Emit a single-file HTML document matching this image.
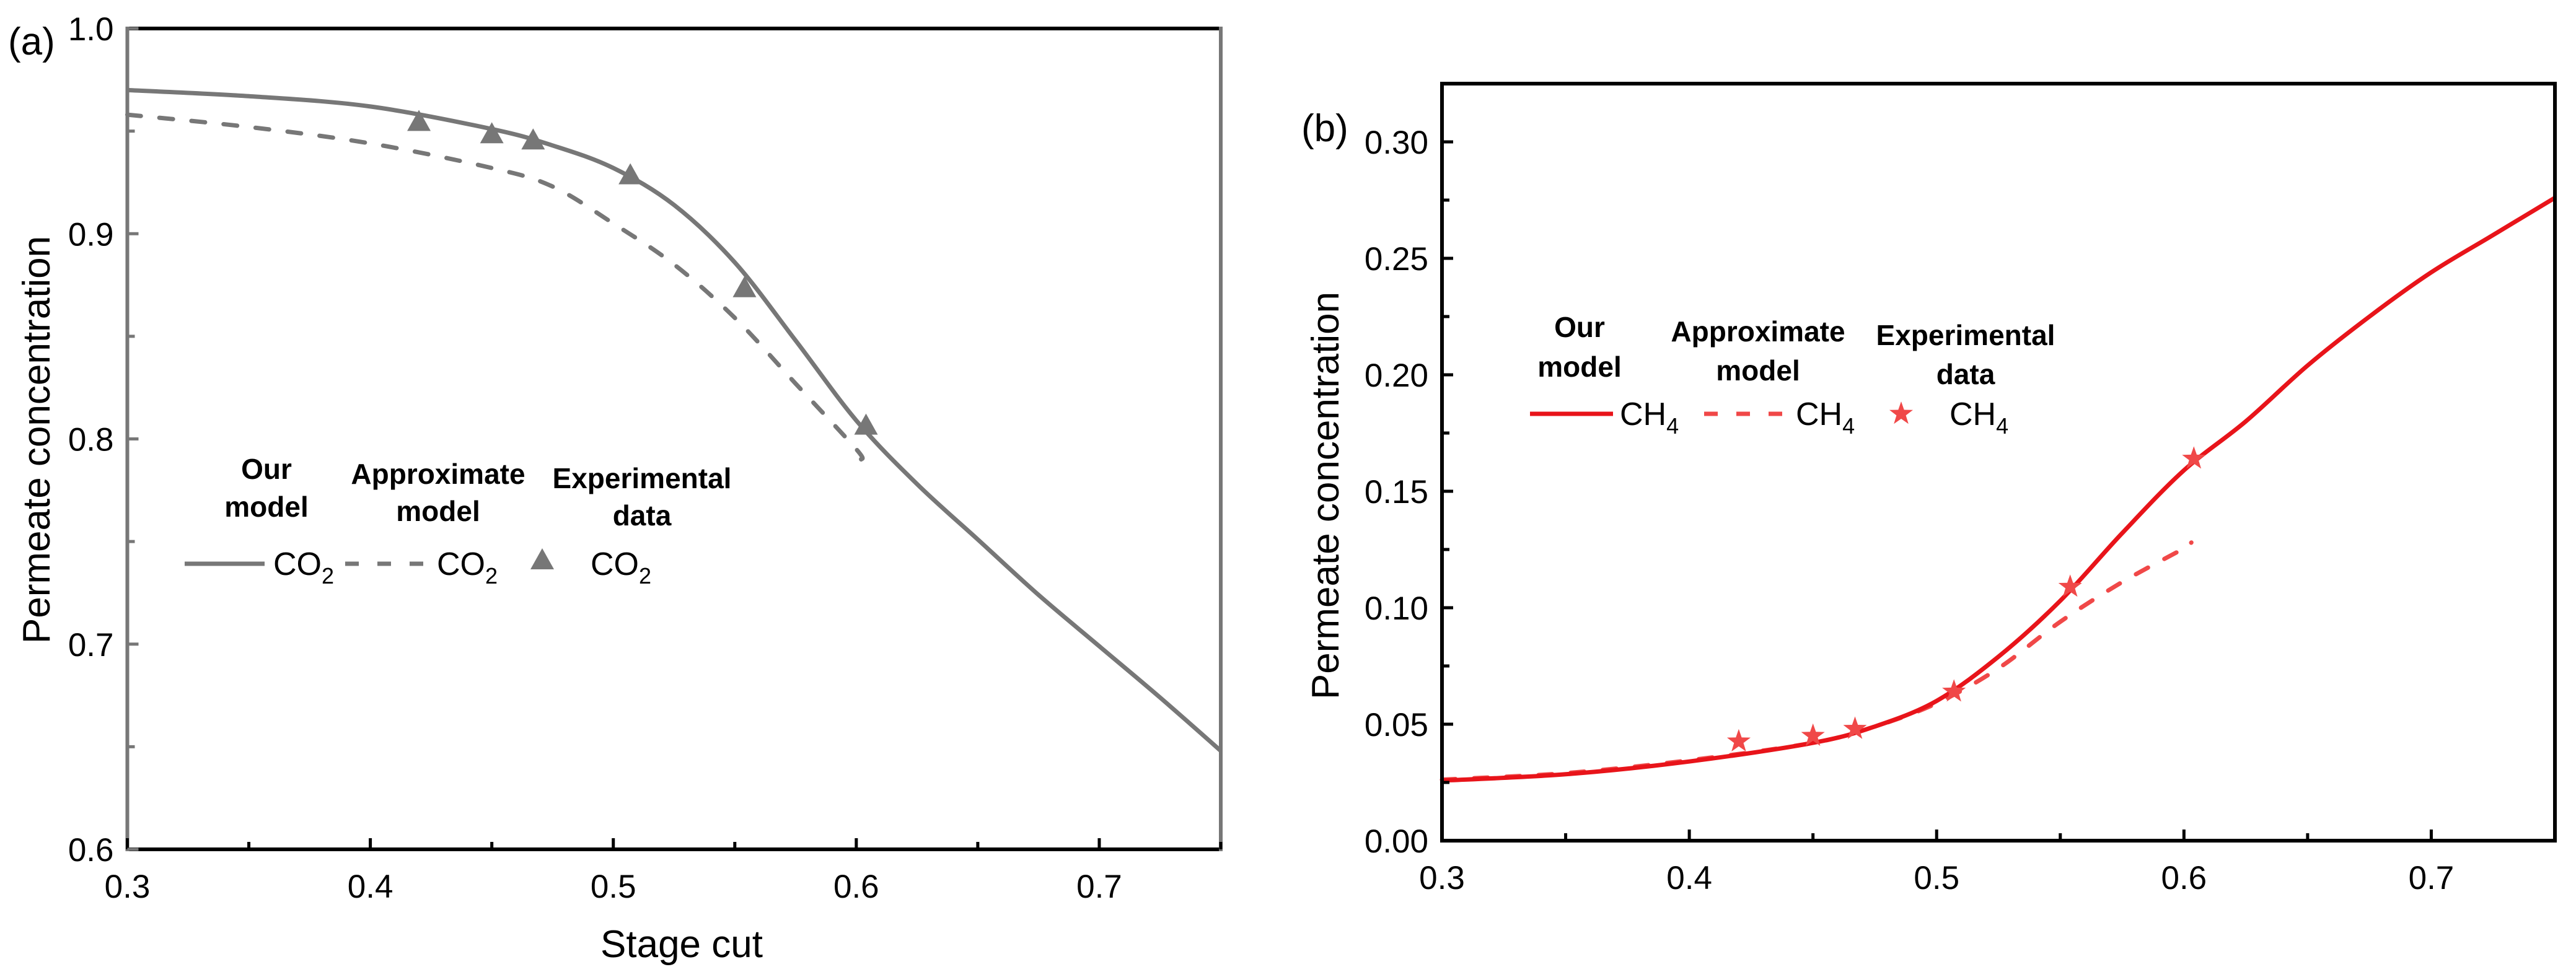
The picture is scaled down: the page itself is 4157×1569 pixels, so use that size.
<!DOCTYPE html>
<html><head><meta charset="utf-8"><style>
html,body{margin:0;padding:0;background:#fff}
svg{display:block}
.t{font-family:"Liberation Sans Narrow","Liberation Sans",sans-serif;font-size:53px;fill:#000}
.ti{font-family:"Liberation Sans",sans-serif;font-size:62px;fill:#000}
.lb{font-family:"Liberation Sans Narrow","Liberation Sans",sans-serif;font-size:46px;font-weight:bold;fill:#000}
.lt{font-family:"Liberation Sans Narrow","Liberation Sans",sans-serif;font-size:52px;fill:#000}
</style></head><body>
<svg id="c" width="4157" height="1569" viewBox="0 0 4157 1569" xmlns="http://www.w3.org/2000/svg"></svg>
<script>
// Panel (a) data
const aXTicks=[0.3,0.4,0.5,0.6,0.7];
const aYTicks=[0.6,0.7,0.8,0.9,1.0];
const aYLabels=["0.6","0.7","0.8","0.9","1.0"];
const aOurX=[0.3,0.35,0.4,0.45,0.475,0.5,0.525,0.55,0.575,0.6,0.625,0.65,0.675,0.7,0.725,0.75];
const aOurY=[0.970,0.967,0.962,0.951,0.943,0.932,0.914,0.886,0.848,0.809,0.778,0.751,0.724,0.699,0.674,0.648];
const aApxX=[0.3,0.35,0.4,0.45,0.475,0.5,0.525,0.55,0.575,0.6,0.602];
const aApxY=[0.958,0.952,0.944,0.932,0.923,0.905,0.885,0.859,0.827,0.795,0.790];
const aExpX=[0.42,0.45,0.467,0.507,0.554,0.604];
const aExpY=[0.954,0.948,0.945,0.928,0.873,0.806];
// Panel (b) data
const bXTicks=[0.3,0.4,0.5,0.6,0.7];
const bYTicks=[0,0.05,0.10,0.15,0.20,0.25,0.30];
const bYLabels=["0.00","0.05","0.10","0.15","0.20","0.25","0.30"];
const bOurX=[0.3,0.35,0.4,0.45,0.475,0.5,0.525,0.55,0.575,0.6,0.625,0.65,0.675,0.7,0.725,0.75];
const bOurY=[0.0258,0.0285,0.034,0.042,0.049,0.060,0.079,0.103,0.132,0.159,0.180,0.204,0.225,0.244,0.260,0.276];
const bApxX=[0.3,0.35,0.4,0.45,0.475,0.5,0.525,0.55,0.575,0.6,0.603];
const bApxY=[0.0262,0.029,0.0345,0.042,0.049,0.059,0.074,0.094,0.111,0.1255,0.128];
const bExpX=[0.42,0.45,0.467,0.507,0.554,0.604];
const bExpY=[0.0426,0.045,0.048,0.064,0.109,0.164];

const NS="http://www.w3.org/2000/svg";
const svg=document.getElementById('c');
function mk(tag,attrs,parent){const e=document.createElementNS(NS,tag);for(const k in attrs)e.setAttribute(k,attrs[k]);(parent||svg).appendChild(e);return e;}
function txt(x,y,s,cls,anchor,parent){const e=mk('text',{x:x,y:y,class:cls,'text-anchor':anchor||'middle'},parent);e.textContent=s;return e;}
function smooth(pts){
  let d='M'+pts[0][0].toFixed(1)+' '+pts[0][1].toFixed(1);
  for(let i=0;i<pts.length-1;i++){
    const p0=pts[Math.max(0,i-1)],p1=pts[i],p2=pts[i+1],p3=pts[Math.min(pts.length-1,i+2)];
    const c1x=p1[0]+(p2[0]-p0[0])/6,c1y=p1[1]+(p2[1]-p0[1])/6;
    const c2x=p2[0]-(p3[0]-p1[0])/6,c2y=p2[1]-(p3[1]-p1[1])/6;
    d+=`C${c1x.toFixed(1)} ${c1y.toFixed(1)} ${c2x.toFixed(1)} ${c2y.toFixed(1)} ${p2[0].toFixed(1)} ${p2[1].toFixed(1)}`;
  }
  return d;
}

function panel(P){
  const g=mk('g',{});
  
  
  const sx=v=>P.x0+(v-P.xmin)/(P.xmax-P.xmin)*(P.x1-P.x0);
  const sy=v=>P.y0-(v-P.ymin)/(P.ymax-P.ymin)*(P.y0-P.y1);
  function line(xs,ys,dash,color,name){
    const pts=xs.map((x,i)=>[sx(x),sy(ys[i])]);
    const p=mk('path',{d:smooth(pts),fill:'none',stroke:color,'stroke-width':7,'stroke-linejoin':'round','stroke-linecap':dash?'round':'butt'},g);
    if(dash)p.setAttribute('stroke-dasharray',dash);
    
    
  }
  line(P.apxX,P.apxY,'22 30',P.c2,'approximate-model-line');
  line(P.ourX,P.ourY,null,P.c1,'our-model-line');
  for(let i=0;i<P.expX.length;i++){
    const m=P.marker(sx(P.expX[i]),sy(P.expY[i]),g);
    
    
  }
  mk('line',{x1:P.x0-3,y1:P.y1,x2:P.x1+3,y2:P.y1,stroke:'#000','stroke-width':6},g);
  mk('line',{x1:P.x0-3,y1:P.y0,x2:P.x1+3,y2:P.y0,stroke:'#000','stroke-width':6},g);
  mk('line',{x1:P.x0,y1:P.y1-3,x2:P.x0,y2:P.y0+3,stroke:P.axc,'stroke-width':6},g);
  mk('line',{x1:P.x1,y1:P.y1-3,x2:P.x1,y2:P.y0+3,stroke:P.axc,'stroke-width':6},g);
  for(let v=P.xmin;v<=P.xmax+1e-9;v+=0.05){
    const x=sx(v);const major=Math.abs(Math.round(v*10)-v*10)<1e-6;
    mk('line',{x1:x,y1:P.y0,x2:x,y2:P.y0-(major?18:12),stroke:'#000','stroke-width':5},g);
  }
  P.xt.forEach(v=>{const t=txt(sx(v),P.y0+78,v.toFixed(1),'t','middle',g);});
  const step=(P.yt[1]-P.yt[0])/2;
  for(let v=P.ymin;v<=P.ymax+1e-9;v+=step){
    const y=sy(v);const k=Math.round((v-P.ymin)/step);
    mk('line',{x1:P.x0,y1:y,x2:P.x0+(k%2===0?18:12),y2:y,stroke:P.axc,'stroke-width':5},g);
  }
  P.yt.forEach((v,i)=>{const t=txt(P.x0-22,sy(v)+19,P.yl[i],'t','end',g);});
  return {sx,sy,g};
}

function tri(x,y,g,color){return mk('path',{d:`M${x} ${y-21}L${x+19} ${y+13}L${x-19} ${y+13}Z`,fill:color||'#777'},g);}
function star(x,y,g,color){let d='';for(let i=0;i<10;i++){const r=i%2?8:20;const a=-Math.PI/2+i*Math.PI/5;d+=(i?'L':'M')+(x+r*Math.cos(a)).toFixed(1)+' '+(y+r*Math.sin(a)).toFixed(1);}return mk('path',{d:d+'Z',fill:color||'#f04848'},g);}

const A=panel({name:'panel-a',x0:205.5,x1:1970,y0:1371,y1:46,xmin:0.3,xmax:0.75,ymin:0.6,ymax:1.0,
  xt:aXTicks,yt:aYTicks,yl:aYLabels,ourX:aOurX,ourY:aOurY,apxX:aApxX,apxY:aApxY,expX:aExpX,expY:aExpY,
  c1:'#777',c2:'#777',axc:'#777',marker:(x,y,g)=>tri(x,y,g)});
const B=panel({name:'panel-b',x0:2327,x1:4123,y0:1357,y1:135,xmin:0.3,xmax:0.75,ymin:0,ymax:0.325,
  xt:bXTicks,yt:bYTicks,yl:bYLabels,ourX:bOurX,ourY:bOurY,apxX:bApxX,apxY:bApxY,expX:bExpX,expY:bExpY,
  c1:'#e8141a',c2:'#f04848',axc:'#000',marker:(x,y,g)=>star(x,y,g)});
</script>
<script>
(function(){
const svg=document.getElementById('c');
const NS="http://www.w3.org/2000/svg";
function T(x,y,s,cls,name,anchor,rot){const e=document.createElementNS(NS,'text');e.setAttribute('x',x);e.setAttribute('y',y);e.setAttribute('class',cls);e.setAttribute('text-anchor',anchor||'middle');if(rot)e.setAttribute('transform',`rotate(-90 ${x} ${y})`);e.textContent=s;svg.appendChild(e);return e;}
function sub(x,y,base,s,cls,name){const e=document.createElementNS(NS,'text');e.setAttribute('x',x);e.setAttribute('y',y);e.setAttribute('class',cls);e.appendChild(document.createTextNode(base));const ts=document.createElementNS(NS,'tspan');ts.setAttribute('dy','14');ts.setAttribute('font-size','36');ts.textContent=s;e.appendChild(ts);svg.appendChild(e);}
function L(x1,x2,y,color,dash,name){const e=document.createElementNS(NS,'line');e.setAttribute('x1',x1);e.setAttribute('x2',x2);e.setAttribute('y1',y);e.setAttribute('y2',y);e.setAttribute('stroke',color);e.setAttribute('stroke-width',7);if(dash){e.setAttribute('stroke-dasharray',dash);}svg.appendChild(e);}
T(13,88,'(a)','ti','panel-a-label','start');
T(1100,1545,'Stage cut','ti','x-axis-title');
T(80,710,'Permeate concentration','ti','y-axis-title-a','middle',true);
T(430,773,'Our','lb','legend-head-our');T(430,834,'model','lb','legend-head-our');
T(707,781,'Approximate','lb','legend-head-approx');T(707,841,'model','lb','legend-head-approx');
T(1036,788,'Experimental','lb','legend-head-exp');T(1036,848,'data','lb','legend-head-exp');
L(298,427,910,'#777',null,'legend-our-line');sub(441,928,'CO','2','lt','legend-our-label');
L(557,691,910,'#777','22 30','legend-approx-line');sub(705,928,'CO','2','lt','legend-approx-label');
tri(875,906,svg);
sub(953,928,'CO','2','lt','legend-exp-label');
T(2100,228,'(b)','ti','panel-b-label','start');
T(2160,800,'Permeate concentration','ti','y-axis-title-b','middle',true);
T(2549,544,'Our','lb','legend-head-our');T(2549,608,'model','lb','legend-head-our');
T(2837,551,'Approximate','lb','legend-head-approx');T(2837,614,'model','lb','legend-head-approx');
T(3172,557,'Experimental','lb','legend-head-exp');T(3172,620,'data','lb','legend-head-exp');
L(2469,2603,668,'#e8141a',null,'legend-our-line');sub(2614,686,'CH','4','lt','legend-our-label');
L(2750,2884,668,'#f04848','22 30','legend-approx-line');sub(2898,686,'CH','4','lt','legend-approx-label');
star(3068,668,svg);
sub(3146,686,'CH','4','lt','legend-exp-label');
})();
</script>
</body></html>
